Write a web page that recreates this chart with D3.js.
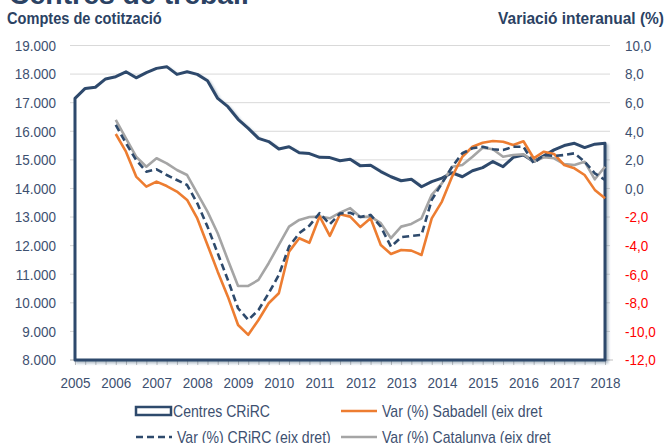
<!DOCTYPE html>
<html>
<head>
<meta charset="utf-8">
<script src="https://cdn.jsdelivr.net/npm/d3@7/dist/d3.min.js"></script>
<style>
  html, body { margin: 0; padding: 0; background: #ffffff; }
  svg { display: block; }
  text { font-family: "Liberation Sans Narrow", "Arial Narrow", "Liberation Sans", Arial, sans-serif; }
</style>
</head>
<body>
<svg id="chart" width="667" height="443"></svg>
<script>
// ---------------- DATA ----------------
const years = ["2005","2006","2007","2008","2009","2010","2011","2012","2013","2014","2015","2016","2017","2018"];
// quarterly categories 2005T1 ... 2018T1
const quarters = [];
years.forEach((y, yi) => {
  const nq = (yi === years.length - 1) ? 1 : 4;
  for (let q = 1; q <= nq; q++) quarters.push(y + "T" + q);
});

// Centres CRiRC (comptes de cotització) – left axis
const centresCRiRC = [
  17150, 17500, 17540, 17830, 17910, 18080, 17870, 18050, 18200, 18260, 17990, 18080, 17990,
  17770, 17150, 16860, 16420, 16100, 15750, 15640, 15380, 15460, 15250, 15220, 15090, 15080,
  14970, 15020, 14790, 14810, 14590, 14410, 14270, 14320, 14060, 14240, 14360, 14550, 14410,
  14620, 14730, 14940, 14760, 15090, 15170, 14940, 15140, 15350, 15500, 15580, 15430, 15550, 15580
];

// Var (%) Sabadell (eix dret)
const varSabadell = [
  null, null, null, null,
  3.81, 2.57, 0.83, 0.13, 0.48, 0.17, -0.22, -0.80, -2.10,
  -3.95, -5.82, -7.57, -9.55, -10.24, -9.20, -8.03, -7.33, -4.42, -3.48, -3.80, -1.95, -3.32,
  -1.80, -1.97, -2.70, -2.09, -3.95, -4.58, -4.30, -4.35, -4.65, -2.09, -0.92, 0.83, 2.22,
  2.92, 3.20, 3.32, 3.27, 3.04, 3.30, 2.11, 2.57, 2.41, 1.64, 1.41, 0.94, -0.10, -0.69
];

// Var (%) CRiRC (eix dret)
const varCRiRC = [
  null, null, null, null,
  4.44, 3.16, 1.99, 1.17, 1.34, 0.94, 0.59, 0.24, -1.04,
  -2.67, -4.53, -6.40, -8.38, -9.20, -8.50, -7.33, -6.05, -4.07, -3.13, -2.60, -1.73, -2.50,
  -1.75, -1.70, -2.00, -1.85, -2.67, -4.07, -3.41, -3.32, -3.25, -0.80, 0.36, 1.52, 2.46,
  2.81, 2.92, 2.74, 2.69, 2.92, 2.92, 1.76, 2.34, 2.27, 2.34, 2.46, 1.87, 1.06, 0.59
];

// Var (%) Catalunya (eix dret)
const varCatalunya = [
  null, null, null, null,
  4.79, 3.51, 2.22, 1.52, 2.11, 1.76, 1.29, 0.94, -0.34,
  -1.62, -3.13, -5.00, -6.82, -6.82, -6.40, -5.23, -3.95, -2.67, -2.20, -2.00, -1.97, -2.09,
  -1.69, -1.38, -2.00, -1.97, -2.43, -3.48, -2.67, -2.48, -2.09, -0.45, 0.36, 1.52, 1.64,
  2.22, 2.85, 2.74, 2.22, 2.34, 2.39, 1.87, 2.18, 2.11, 1.71, 1.64, 1.87, 0.64, 1.52
];

const leftTicks = [8000, 9000, 10000, 11000, 12000, 13000, 14000, 15000, 16000, 17000, 18000, 19000];
const rightTicks = [-12, -10, -8, -6, -4, -2, 0, 2, 4, 6, 8, 10];

const titleText = "Centres de treball";
const leftAxisTitle = "Comptes de cotització";
const rightAxisTitle = "Variació interanual (%)";
const legendItems = [
  { label: "Centres CRiRC", type: "area" },
  { label: "Var (%) Sabadell (eix dret", type: "orange" },
  { label: "Var (%) CRiRC (eix dret)", type: "dashed" },
  { label: "Var (%) Catalunya (eix dret", type: "gray" }
];

// ---------------- STYLE ----------------
const NAVY = "#2E4A6C";
const ORANGE = "#ED7D31";
const GRAY = "#A5A5A5";
const TEXT = "#3D5070";
const GRID = "#D9D9D9";
const FONT = "'Liberation Sans Narrow','Arial Narrow','Liberation Sans',Arial,sans-serif";

const svg = d3.select("#chart");

const x = d3.scalePoint().domain(quarters).range([75, 605]);
const yL = d3.scaleLinear().domain([8000, 19000]).range([360, 45.5]);
const yR = d3.scaleLinear().domain([-12, 10]).range([360, 45.5]);

const loc = d3.formatLocale({ decimal: ",", thousands: ".", grouping: [3], currency: ["", "€"], minus: "-" });
const fmtL = loc.format(",d");
const fmtR = loc.format(".1f");

const defs = svg.append("defs");
const f = defs.append("filter").attr("id", "shadow").attr("x", "-5%").attr("y", "-5%").attr("width", "110%").attr("height", "110%");
f.append("feDropShadow").attr("dx", 2).attr("dy", 2).attr("stdDeviation", 1.2)
  .attr("flood-color", NAVY).attr("flood-opacity", 0.35);

// Condense text horizontally around its anchor point (emulates a narrow face)
function condense(node, factor) {
  const ax = +(node.getAttribute("x") || 0);
  node.setAttribute("transform", `translate(${ax},0) scale(${factor},1) translate(${-ax},0)`);
}
function fitWidth(node, width) {
  const L = node.getComputedTextLength();
  if (L > 0) condense(node, width / L);
}

// Cut-off title at top
const tTop = svg.append("text").attr("x", 9).attr("y", 4)
  .attr("font-size", 28).attr("font-weight", "bold").attr("fill", "#2B4263")
  .text(titleText);
fitWidth(tTop.node(), 240);

// Axis titles
const tL = svg.append("text").attr("x", 7).attr("y", 24)
  .attr("font-size", 16).attr("font-weight", "bold").attr("fill", "#2B4263")
  .text(leftAxisTitle);
fitWidth(tL.node(), 155);
const tR = svg.append("text").attr("x", 664).attr("y", 24).attr("text-anchor", "end")
  .attr("font-size", 16).attr("font-weight", "bold").attr("fill", "#2B4263")
  .text(rightAxisTitle);
fitWidth(tR.node(), 166);

const [xr0, xr1] = x.range();

// Gridlines
svg.append("g").selectAll("line").data(leftTicks).join("line")
  .attr("x1", xr0 - 5).attr("x2", xr1 + 5)
  .attr("y1", d => yL(d)).attr("y2", d => yL(d))
  .attr("stroke", GRID).attr("stroke-width", 1);

// Left axis
const gL = svg.append("g").attr("transform", `translate(${xr0 - 5},0)`)
  .call(d3.axisLeft(yL).tickValues(leftTicks).tickSize(0).tickPadding(14).tickFormat(fmtL));
gL.select(".domain").remove();
gL.selectAll("text").attr("font-size", 15).attr("fill", TEXT).attr("font-family", FONT)
  .each(function () { condense(this, 0.9); });

// Right axis
const gR = svg.append("g").attr("transform", `translate(${xr1 + 5},0)`)
  .call(d3.axisRight(yR).tickValues(rightTicks).tickSize(0).tickPadding(15).tickFormat(fmtR));
gR.select(".domain").remove();
gR.selectAll("text").attr("font-size", 15)
  .attr("fill", d => d < 0 ? "#FF0000" : TEXT).attr("font-family", FONT)
  .each(function () { condense(this, 0.9); });

// Bottom axis
const gB = svg.append("g").attr("transform", `translate(0,${yL(8000)})`)
  .call(d3.axisBottom(x).tickValues(quarters).tickSize(5).tickPadding(12)
    .tickFormat(d => d.endsWith("T1") ? d.slice(0, 4) : ""));
gB.select(".domain").remove();
gB.append("line").attr("x1", xr0 - 5).attr("x2", xr1 + 8).attr("y1", 0).attr("y2", 0)
  .attr("stroke", "#BFBFBF").attr("stroke-width", 1);
gB.selectAll(".tick line").attr("stroke", "#BFBFBF");
gB.selectAll("text").attr("font-size", 15).attr("fill", TEXT).attr("font-family", FONT)
  .each(function () { condense(this, 0.9); });

// Area series (white fill, navy outline)
const areaData = centresCRiRC.map((v, i) => ({ q: quarters[i], v }));
const areaGen = d3.area().x(d => x(d.q)).y0(yL(8000)).y1(d => yL(d.v));
svg.append("path").datum(areaData)
  .attr("d", areaGen)
  .attr("fill", "#ffffff").attr("stroke", NAVY).attr("stroke-width", 3)
  .attr("stroke-linejoin", "round")
  .attr("filter", "url(#shadow)");

// Var lines
function drawLine(values, color, dash) {
  const data = values.map((v, i) => ({ q: quarters[i], v }));
  const line = d3.line().defined(d => d.v !== null).x(d => x(d.q)).y(d => yR(d.v));
  svg.append("path").datum(data).attr("d", line)
    .attr("fill", "none").attr("stroke", color).attr("stroke-width", 2.6)
    .attr("stroke-linejoin", "round")
    .attr("stroke-dasharray", dash || null);
}
drawLine(varCatalunya, GRAY);
drawLine(varSabadell, ORANGE);
drawLine(varCRiRC, NAVY, "7,4");

// Legend
const legPos = [
  { x: 136, y: 411 }, { x: 341, y: 411 },
  { x: 136, y: 437 }, { x: 341, y: 437 }
];
const lg = svg.append("g");
legendItems.forEach((it, i) => {
  const p = legPos[i];
  const g = lg.append("g").attr("transform", `translate(${p.x},${p.y})`);
  if (it.type === "area") {
    g.append("rect").attr("x", 0).attr("y", -4).attr("width", 35).attr("height", 8)
      .attr("fill", "#fff").attr("stroke", NAVY).attr("stroke-width", 2.5);
  } else {
    const col = it.type === "orange" ? ORANGE : it.type === "gray" ? GRAY : NAVY;
    g.append("line").attr("x1", 0).attr("x2", 36).attr("y1", 0).attr("y2", 0)
      .attr("stroke", col).attr("stroke-width", 2.6)
      .attr("stroke-dasharray", it.type === "dashed" ? "7,4" : null);
  }
  const t = g.append("text").attr("x", it.type === "area" ? 37 : 41).attr("y", 5.5)
    .attr("font-size", 16).attr("fill", TEXT).text(it.label);
  condense(t.node(), 0.88);
});
</script>
</body>
</html>
